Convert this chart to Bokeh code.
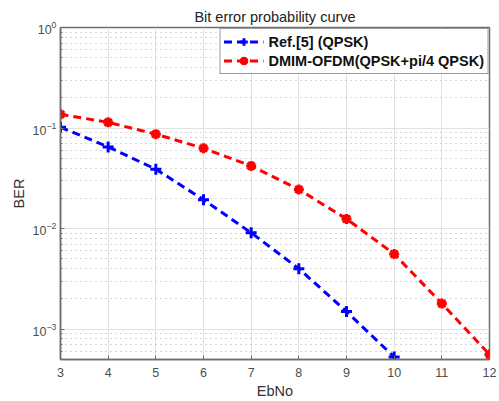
from bokeh.plotting import figure
from bokeh.models import Range1d, FixedTicker, Legend, LegendItem
from bokeh.embed import file_html
from bokeh.resources import INLINE

ebno_ref = [3, 4, 5, 6, 7, 8, 9, 10]
ber_ref = [0.102, 0.065, 0.039, 0.0194, 0.0091, 0.0040, 0.0015, 0.00053]
ebno_dmim = [3, 4, 5, 6, 7, 8, 9, 10, 11, 12]
ber_dmim = [0.137, 0.114, 0.087, 0.063, 0.042, 0.0245, 0.0125, 0.0056, 0.0018, 0.00056]
x_ticks = [3, 4, 5, 6, 7, 8, 9, 10, 11, 12]

FONT = "Liberation Sans"
GRAY = "#4d4d4d"
AX = "#6e6e6e"

p = figure(width=499, height=401, y_axis_type="log", output_backend="svg",
           toolbar_location=None, x_range=Range1d(3, 12), y_range=Range1d(5e-4, 1),
           min_border_left=60, min_border_right=10, min_border_top=27, min_border_bottom=41)

p.title.text = "Bit error probability curve"
p.title.align = "center"
p.title.text_font = FONT
p.title.text_font_size = "14.5px"
p.title.text_font_style = "normal"
p.title.text_color = "#222222"
p.title.standoff = 6

p.xaxis.ticker = FixedTicker(ticks=x_ticks)
p.xaxis.axis_label = "EbNo"
p.yaxis.axis_label = "BER"
for ax in [p.xaxis[0], p.yaxis[0]]:
    ax.axis_label_text_font = FONT
    ax.axis_label_text_font_size = "14.5px"
    ax.axis_label_text_font_style = "normal"
    ax.axis_label_text_color = "#333333"
    ax.major_label_text_font = FONT
    ax.major_label_text_font_size = "12.5px"
    ax.major_label_text_color = GRAY
    ax.axis_line_color = AX
    ax.axis_line_width = 1.5
    ax.major_tick_line_color = AX
    ax.minor_tick_line_color = AX
    ax.major_tick_in = 4
    ax.major_tick_out = 0
    ax.minor_tick_in = 2
    ax.minor_tick_out = 0
p.xaxis.minor_tick_line_color = None
p.xaxis.major_label_standoff = 8
p.xaxis.axis_label_standoff = 3
p.yaxis.major_label_standoff = 4
p.yaxis.axis_label_standoff = 3

p.xgrid.grid_line_color = "#e2e2e2"
p.ygrid.grid_line_color = "#e2e2e2"
p.ygrid.minor_grid_line_color = "#b0b0b0"
p.ygrid.minor_grid_line_dash = "1 4"
p.outline_line_color = AX
p.outline_line_width = 1.5

r1 = p.line(ebno_ref, ber_ref, line_color="blue", line_width=3, line_dash="8 5")
m1 = p.scatter(ebno_ref, ber_ref, marker="cross", size=11, line_color="blue", line_width=3)
r2 = p.line(ebno_dmim, ber_dmim, line_color="red", line_width=3, line_dash="8 5")
m2 = p.scatter(ebno_dmim, ber_dmim, marker="asterisk", size=10, line_color="red", line_width=3)
m2b = p.scatter(ebno_dmim, ber_dmim, marker="circle", size=6, fill_color="red", line_color="red")

legend = Legend(items=[LegendItem(label="Ref.[5] (QPSK)", renderers=[r1, m1]),
                       LegendItem(label="DMIM-OFDM(QPSK+pi/4 QPSK)", renderers=[r2, m2, m2b])],
                location="top_right", label_text_font=FONT, label_text_font_size="14.5px",
                label_text_font_style="bold", label_text_color="#111111",
                border_line_color="#333333", border_line_width=1, glyph_width=40,
                padding=3, spacing=0, margin=1, label_height=19, glyph_height=19,
                label_standoff=5)
p.add_layout(legend)

open("out.html", "w").write(file_html(p, INLINE))
